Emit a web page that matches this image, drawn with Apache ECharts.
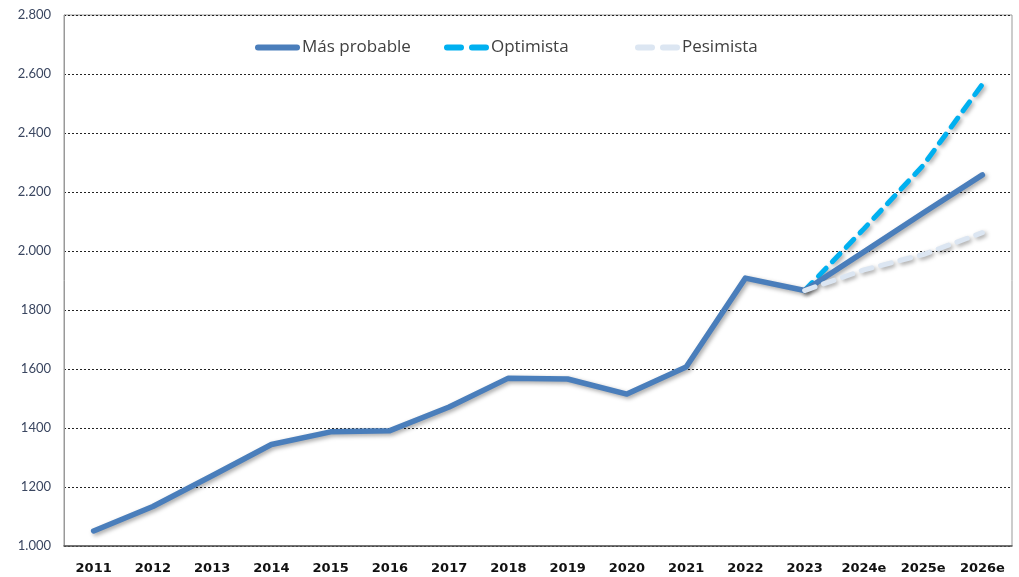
<!DOCTYPE html>
<html>
<head>
<meta charset="utf-8">
<script src="https://cdn.jsdelivr.net/npm/echarts@6/dist/echarts.min.js"></script>
<style>
  html, body { margin: 0; padding: 0; background: #fff; }
  #chart { width: 1019px; height: 577px; }
</style>
</head>
<body>
<div id="chart"></div>
<script>
const years = ['2011', '2012', '2013', '2014', '2015', '2016', '2017', '2018',
  '2019', '2020', '2021', '2022', '2023', '2024e', '2025e', '2026e'];
const masProbable = [1051, 1134, 1238, 1344, 1387, 1391, 1471, 1569,
  1566, 1515, 1607, 1908, 1866, 1997, 2129, 2258];
const optimista = [null, null, null, null, null, null, null, null,
  null, null, null, null, 1866, 2075, 2290, 2565];
const pesimista = [null, null, null, null, null, null, null, null,
  null, null, null, null, 1866, 1936, 1988, 2062];
// tick labels as printed in the source (only some carry the thousands dot)
const yTickLabels = {
  1000: '1.000', 1200: '1200', 1400: '1400', 1600: '1600', 1800: '1800',
  2000: '2.000', 2200: '2.200', 2400: '2.400', 2600: '2.600', 2800: '2.800'
};

const chart = echarts.init(document.getElementById('chart'));

const shadow = {
  shadowColor: 'rgba(0,0,0,0.35)',
  shadowBlur: 4,
  shadowOffsetX: 2,
  shadowOffsetY: 2
};

const solidIcon = 'path://M3,0H42A3,3 0 0 1 42,6H3A3,3 0 0 1 3,0Z';
const dashIcon = 'path://M3,0H17A3,3 0 0 1 17,6H3A3,3 0 0 1 3,0Z M28,0H42A3,3 0 0 1 42,6H28A3,3 0 0 1 28,0Z';

function legendAt(name, left, icon) {
  return {
    top: 34,
    left: left,
    itemWidth: 45,
    itemHeight: 6,
    textStyle: { fontFamily: 'Open Sans', fontSize: 17, color: '#404040', padding: [0, 0, 0, -3] },
    data: [{ name: name, icon: icon }]
  };
}

const option = {
  animation: false,
  legend: [
    legendAt('Más probable', 250, solidIcon),
    legendAt('Optimista', 439, dashIcon),
    legendAt('Pesimista', 630, dashIcon)
  ],
  grid: {
    left: 64, right: 7, top: 15, bottom: 31,
    show: true,
    borderColor: '#999',
    borderWidth: 1
  },
  xAxis: {
    type: 'category',
    data: years,
    boundaryGap: true,
    axisLine: { lineStyle: { color: '#555', width: 1.5 } },
    axisTick: { show: false },
    axisLabel: {
      margin: 16,
      fontFamily: 'DejaVu Sans',
      fontWeight: 'bold',
      fontSize: 13,
      color: '#111'
    }
  },
  yAxis: {
    type: 'value',
    min: 1000,
    max: 2800,
    interval: 200,
    axisLine: { show: true, lineStyle: { color: '#999' } },
    axisTick: { show: false },
    axisLabel: {
      margin: 13,
      fontFamily: 'Lato',
      fontSize: 13,
      color: '#3a4660',
      formatter: v => yTickLabels[v]
    },
    splitLine: { lineStyle: { color: '#222', type: [2, 2], width: 1 } }
  },
  series: [
    {
      name: 'Más probable',
      type: 'line',
      symbol: 'none',
      data: masProbable,
      z: 3,
      itemStyle: { color: '#4a7ebb' },
      lineStyle: Object.assign({ color: '#4a7ebb', width: 5.5, cap: 'round', join: 'round' }, shadow)
    },
    {
      name: 'Optimista',
      type: 'line',
      symbol: 'none',
      data: optimista,
      z: 2,
      itemStyle: { color: '#00b0f0' },
      lineStyle: Object.assign({ color: '#00b0f0', width: 5, type: [11, 9], cap: 'round' }, shadow)
    },
    {
      name: 'Pesimista',
      type: 'line',
      symbol: 'none',
      data: pesimista,
      z: 4,
      itemStyle: { color: '#dce6f2' },
      lineStyle: Object.assign({ color: '#dce6f2', width: 5, type: [11, 9], cap: 'round' }, shadow)
    }
  ]
};

chart.setOption(option);
</script>
</body>
</html>
